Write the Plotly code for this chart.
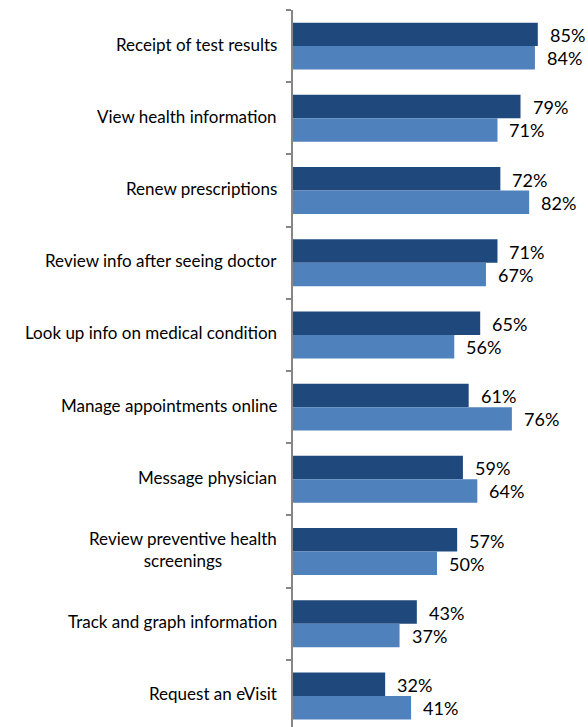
import plotly.graph_objects as go

# Online portal activities, top to bottom
categories = [
    "Receipt of test results",
    "View health information",
    "Renew prescriptions",
    "Review info after seeing doctor",
    "Look up info on medical condition",
    "Manage appointments online",
    "Message physician",
    "Review preventive health<br>screenings",
    "Track and graph information",
    "Request an eVisit",
]
series_1 = [85, 79, 72, 71, 65, 61, 59, 57, 43, 32]
series_2 = [84, 71, 82, 67, 56, 76, 64, 50, 37, 41]

DARK = "#1F497D"
LIGHT = "#4F81BD"
FONT = "Lato"

fig = go.Figure()
fig.add_trace(go.Bar(y=categories, x=series_1, orientation="h", name="Series 1",
                     marker=dict(color=DARK, line=dict(width=0)), hoverinfo="x+y"))
fig.add_trace(go.Bar(y=categories, x=series_2, orientation="h", name="Series 2",
                     marker=dict(color=LIGHT, line=dict(width=0)), hoverinfo="x+y"))

annotations = []
# value labels to the right of each bar
for cat, v1, v2 in zip(categories, series_1, series_2):
    annotations.append(dict(x=v1, y=cat, xref="x", yref="y", text=f"{v1}%",
                            xanchor="left", yanchor="middle", xshift=10, yshift=11,
                            showarrow=False, font=dict(family=FONT, size=18, color="#000")))
    annotations.append(dict(x=v2, y=cat, xref="x", yref="y", text=f"{v2}%",
                            xanchor="left", yanchor="middle", xshift=10, yshift=-12,
                            showarrow=False, font=dict(family=FONT, size=18, color="#000")))
    # category label, centred lines for wrapped names
    annotations.append(dict(x=0, y=cat, xref="paper", yref="y", text=cat,
                            xanchor="right", yanchor="middle", align="center",
                            xshift=-14, yshift=2, showarrow=False,
                            font=dict(family=FONT, size=17, color="#000")))

fig.update_layout(
    width=588, height=727,
    margin=dict(l=293, r=7, t=10, b=0),
    paper_bgcolor="white", plot_bgcolor="white",
    barmode="group", bargap=0.35, bargroupgap=0,
    showlegend=False,
    font=dict(family=FONT, size=16, color="#000"),
    annotations=annotations,
    xaxis=dict(range=[0, 100], visible=False, fixedrange=True),
    yaxis=dict(type="category", range=[9.43, -0.5], showticklabels=False,
               showline=True, linecolor="#868686", linewidth=1.5,
               ticks="outside", tickson="boundaries", ticklen=5,
               tickcolor="#868686", tickwidth=1.5, showgrid=False,
               zeroline=False, fixedrange=True),
)

fig.write_html("out.html")
